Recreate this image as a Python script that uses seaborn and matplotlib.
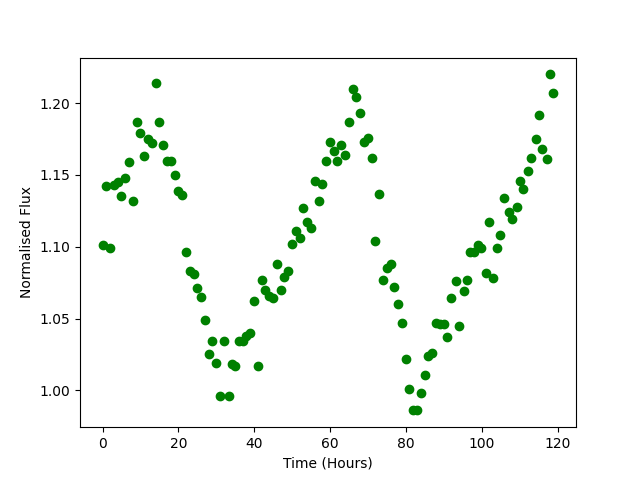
import matplotlib
matplotlib.use("Agg")
import matplotlib.pyplot as plt
import seaborn as sns

# time (hours) and normalised flux
time_hours = [
    0.0, 0.8, 1.9, 3.0, 4.1, 4.8, 6.0, 6.9, 8.0, 9.1, 9.8, 10.9, 12.0, 13.0,
    14.1, 14.9, 15.9, 17.0, 18.0, 19.1, 20.0, 21.0, 21.9, 23.0, 24.0, 24.9,
    25.9, 27.0, 28.0, 28.8, 29.9, 31.0, 32.0, 33.2, 34.0, 35.0, 36.0, 37.0,
    37.9, 38.9, 39.9, 41.0, 42.0, 42.8, 43.9, 44.9, 46.0, 47.0, 47.8, 48.9,
    49.9, 51.0, 52.1, 52.9, 53.9, 55.0, 56.0, 57.1, 57.9, 58.9, 60.0, 61.0,
    61.8, 62.9, 63.9, 65.0, 66.0, 66.8, 67.9, 68.9, 70.0, 71.1, 71.8, 72.9,
    74.0, 74.9, 76.0, 76.8, 77.9, 79.0, 80.0, 80.8, 81.9, 82.9, 83.9, 85.0,
    85.8, 86.9, 87.9, 88.9, 90.0, 90.8, 91.9, 93.0, 94.0, 95.1, 95.9, 96.9,
    97.9, 99.0, 99.8, 100.9, 101.9, 103.0, 104.0, 104.8, 105.9, 107.0, 108.0,
    109.1, 109.9, 110.9, 112.0, 113.0, 114.1, 114.9, 115.9, 117.0, 118.0, 118.8,
]
flux = [
    1.101, 1.142, 1.099, 1.143, 1.145, 1.135, 1.148, 1.159, 1.132, 1.187,
    1.179, 1.163, 1.175, 1.172, 1.214, 1.187, 1.171, 1.160, 1.160, 1.150,
    1.139, 1.136, 1.096, 1.083, 1.081, 1.071, 1.065, 1.049, 1.025, 1.034,
    1.019, 0.996, 1.034, 0.996, 1.018, 1.017, 1.034, 1.034, 1.038, 1.040,
    1.062, 1.017, 1.077, 1.070, 1.066, 1.064, 1.088, 1.070, 1.079, 1.083,
    1.102, 1.111, 1.106, 1.127, 1.117, 1.113, 1.146, 1.132, 1.144, 1.160,
    1.173, 1.167, 1.160, 1.171, 1.164, 1.187, 1.210, 1.204, 1.193, 1.173,
    1.176, 1.162, 1.104, 1.137, 1.077, 1.085, 1.088, 1.072, 1.060, 1.047,
    1.022, 1.001, 0.986, 0.986, 0.998, 1.011, 1.024, 1.026, 1.047, 1.046,
    1.046, 1.037, 1.064, 1.076, 1.045, 1.069, 1.077, 1.096, 1.096, 1.101,
    1.099, 1.082, 1.117, 1.078, 1.099, 1.108, 1.134, 1.124, 1.119, 1.128,
    1.146, 1.140, 1.153, 1.162, 1.175, 1.192, 1.168, 1.161, 1.220, 1.207,
]

fig, ax = plt.subplots(figsize=(6.4, 4.8), dpi=100)

sns.scatterplot(x=time_hours, y=flux, color="green", edgecolor="green",
                s=36, linewidth=1, ax=ax)

ax.set_xlabel("Time (Hours)")
ax.set_ylabel("Normalised Flux")

fig.savefig("out.png", dpi=100)
